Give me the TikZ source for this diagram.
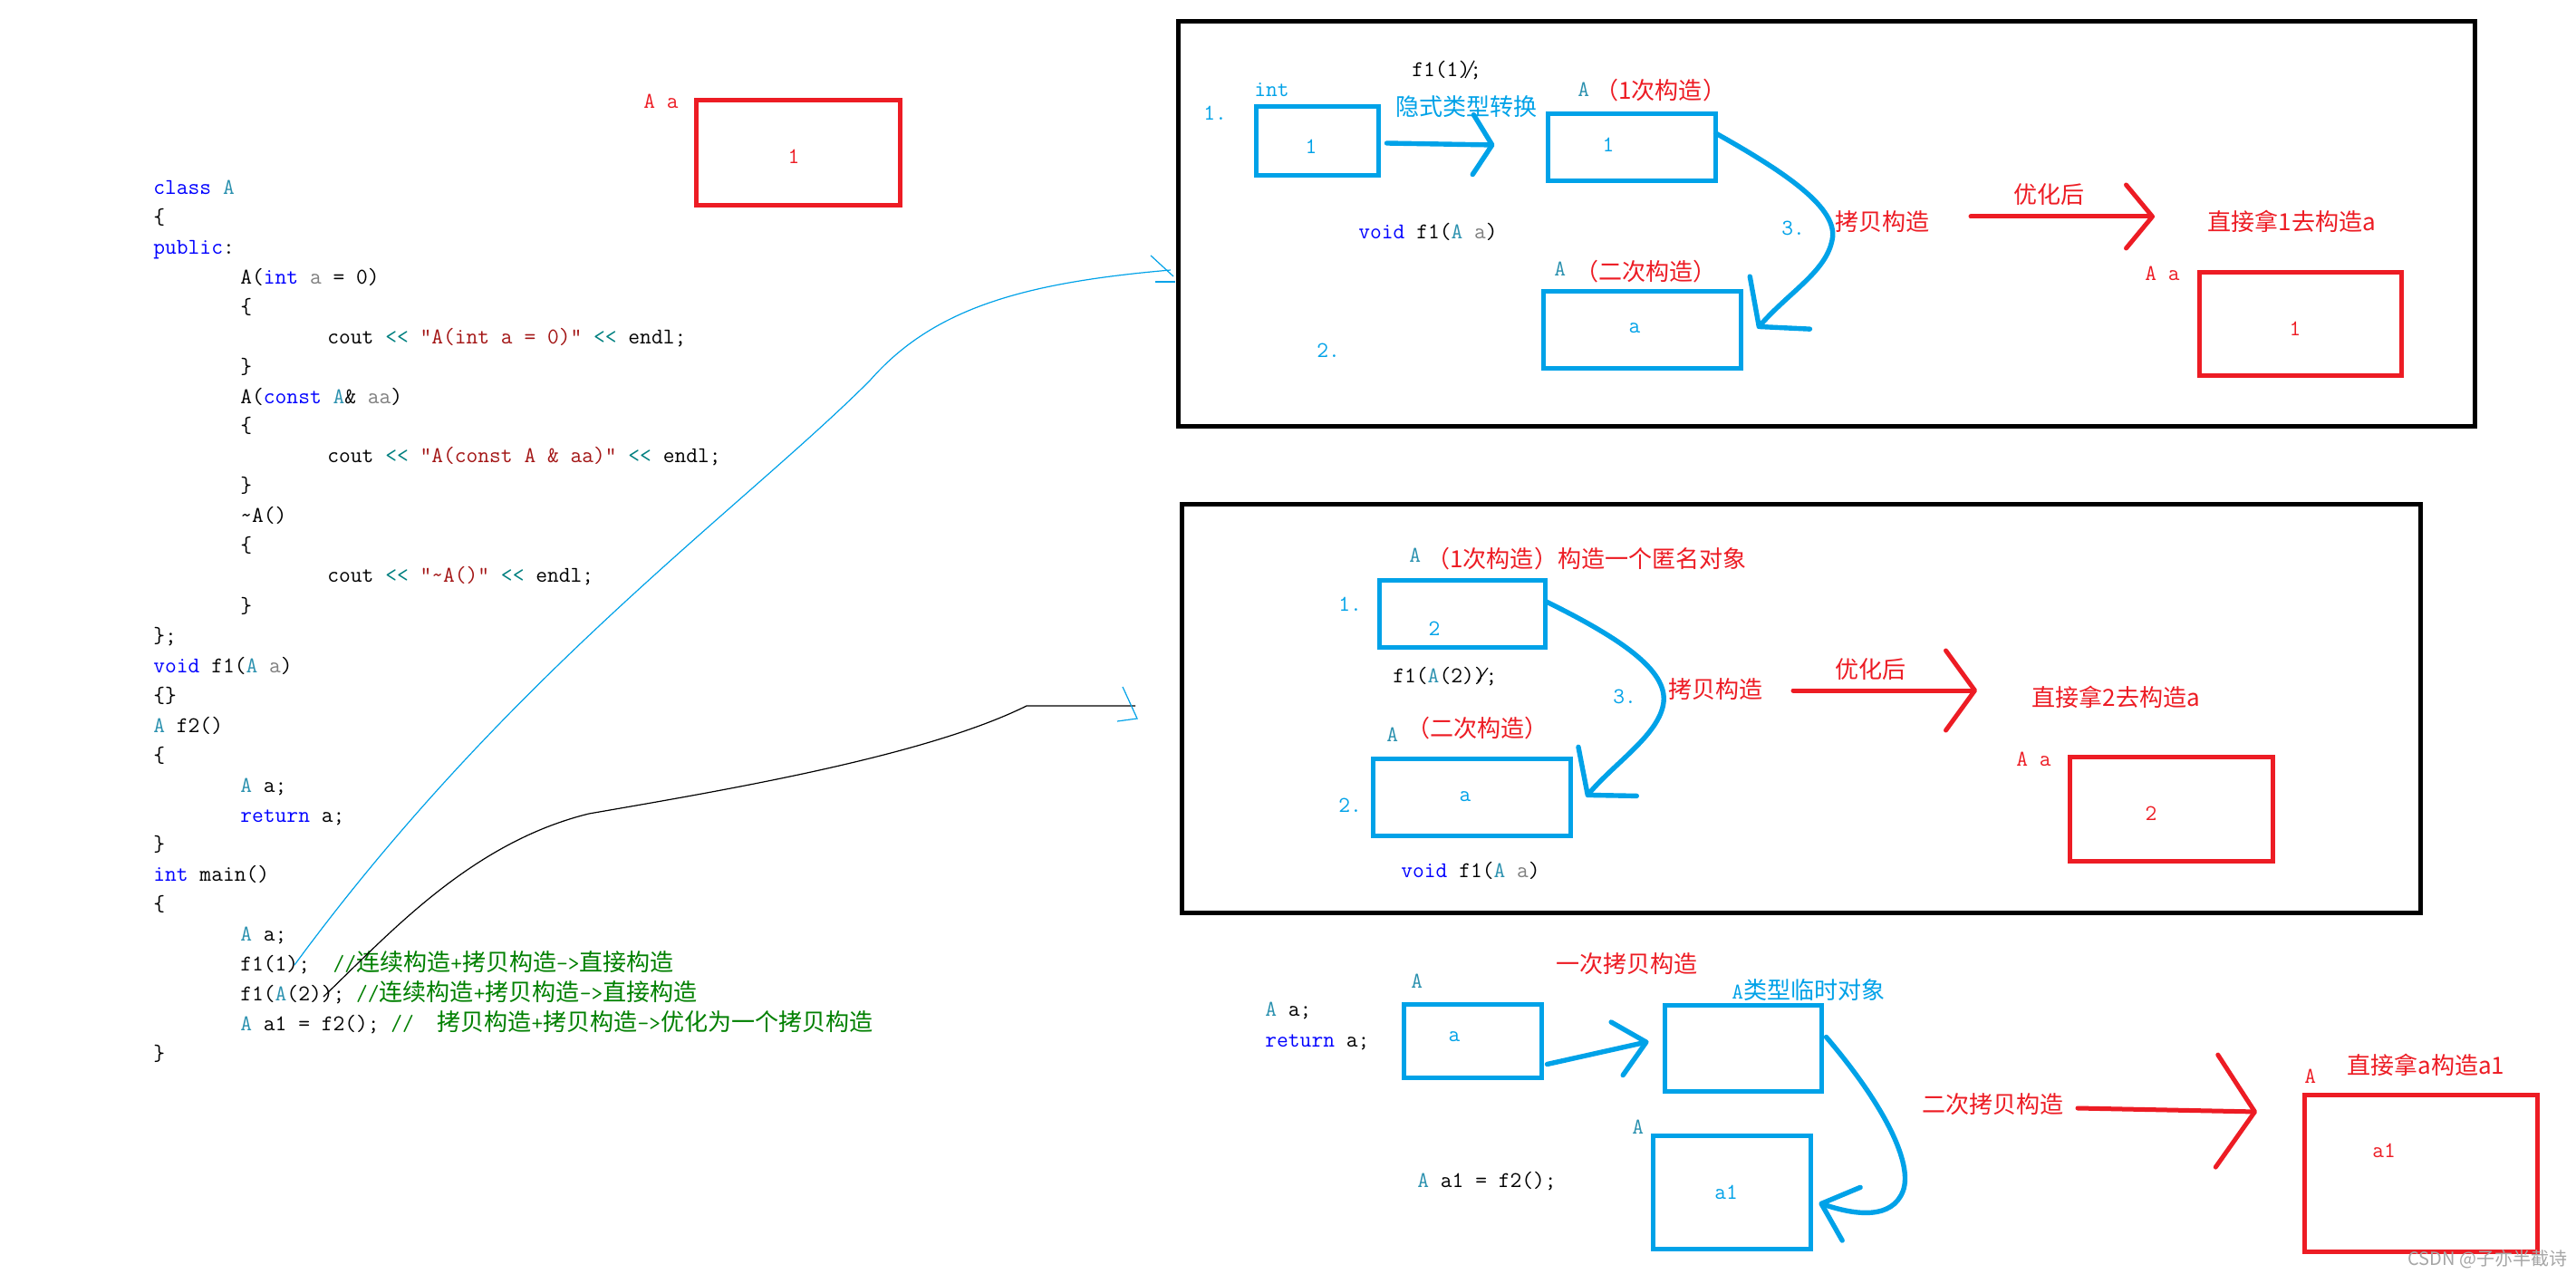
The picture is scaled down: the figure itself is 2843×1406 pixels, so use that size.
\documentclass[tikz,border=0pt]{standalone}
\usepackage{fontspec}
\newfontfamily\cjk[Scale=1.05]{Noto Sans CJK SC}
\newfontfamily\wmfont{Noto Sans CJK SC}
\usetikzlibrary{fit,calc,arrows.meta}
\definecolor{pblue}{RGB}{0,162,232}
\definecolor{pred}{RGB}{237,28,36}
\definecolor{kwblue}{RGB}{0,0,255}
\definecolor{tyteal}{RGB}{43,145,175}
\definecolor{pgray}{RGB}{128,128,128}
\definecolor{strred}{RGB}{163,21,21}
\definecolor{opteal}{RGB}{0,128,128}
\definecolor{cmgreen}{RGB}{0,128,0}
\newcommand\xzh[1]{{\cjk #1}}
\newcommand\xkw[1]{\textcolor{kwblue}{#1}}
\newcommand\xty[1]{\textcolor{tyteal}{#1}}
\newcommand\xpa[1]{\textcolor{pgray}{#1}}
\newcommand\xst[1]{\textcolor{strred}{#1}}
\newcommand\xop[1]{\textcolor{opteal}{#1}}
\newcommand\xcm[1]{\textcolor{cmgreen}{#1}}
\begin{document}
\begin{tikzpicture}[x=0.5pt,y=-0.5pt,
  code/.style={anchor=base west, inner sep=0pt, font=\ttfamily\fontsize{12.4}{14}\selectfont},
  lab/.style={code},
  labc/.style={code, anchor=base},
  frame/.style={draw=black, line width=2.5pt, inner sep=0pt},
  bbox/.style={draw=pblue, line width=2.5pt, inner sep=0pt},
  rbox/.style={draw=pred, line width=2.5pt, inner sep=0pt},
  bthick/.style={draw=pblue, line width=2.7pt, line cap=round, line join=round},
  rthick/.style={draw=pred, line width=2.5pt, line cap=round, line join=round},
  thinb/.style={draw=pblue, line width=0.6pt},
  think/.style={draw=black, line width=0.6pt}]
\fill[white] (0,0) rectangle (2843,1406);
\useasboundingbox (0,0) rectangle (2843,1406);

% ---------------- code listing ----------------
\node[code] (c0) at (169,215) {\xkw{class} \xty{A}};
\node[code] (c1) at (169,248) {\{};
\node[code] (c2) at (169,281) {\xkw{public}:};
\node[code] (c3) at (265,314) {A(\xkw{int} \xpa{a} = 0)};
\node[code] (c4) at (265,347) {\{};
\node[code] (c5) at (361,380) {cout \xop{<<} \xst{"A(int a = 0)"} \xop{<<} endl;};
\node[code] (c6) at (265,413) {\}};
\node[code] (c7) at (265,446) {A(\xkw{const} \xty{A}\& \xpa{aa})};
\node[code] (c8) at (265,478) {\{};
\node[code] (c9) at (361,511) {cout \xop{<<} \xst{"A(const A \& aa)"} \xop{<<} endl;};
\node[code] (c10) at (265,544) {\}};
\node[code] (c11) at (265,577) {\textasciitilde A()};
\node[code] (c12) at (265,610) {\{};
\node[code] (c13) at (361,643) {cout \xop{<<} \xst{"\textasciitilde A()"} \xop{<<} endl;};
\node[code] (c14) at (265,676) {\}};
\node[code] (c15) at (169,709) {\};};
\node[code] (c16) at (169,742) {\xkw{void} f1(\xty{A} \xpa{a})};
\node[code] (c17) at (169,775) {\{\}};
\node[code] (c18) at (169,808) {\xty{A} f2()};
\node[code] (c19) at (169,841) {\{};
\node[code] (c20) at (265,874) {\xty{A} a;};
\node[code] (c21) at (265,907) {\xkw{return} a;};
\node[code] (c22) at (169,939) {\}};
\node[code] (c23) at (169,972) {\xkw{int} main()};
\node[code] (c24) at (169,1005) {\{};
\node[code] (c25) at (265,1038) {\xty{A} a;};
\node[code] (c26) at (265,1071) {f1(1);\ \ \xcm{//\xzh{连续构造}+\xzh{拷贝构造}->\xzh{直接构造}}};
\node[code] (c27) at (265,1104) {f1(\xty{A}(2)); \xcm{//\xzh{连续构造}+\xzh{拷贝构造}->\xzh{直接构造}}};
\node[code] (c28) at (265,1137) {\xty{A} a1 = f2(); \xcm{//\ \ \xzh{拷贝构造}+\xzh{拷贝构造}->\xzh{优化为一个拷贝构造}}};
\node[code] (c29) at (169,1170) {\}};

% ---------------- top-left object ----------------
\node[lab, text=pred] (la0) at (710,120) {A a};
\node[rbox, fit={(768,111) (993,227)}] (R0) {};
\node[labc, text=pred] at (876,181) {1};

% ---------------- panels ----------------
\node[frame, fit={(1300,24) (2731,471)}] (F1) {};
\node[frame, fit={(1304,557) (2671,1007)}] (F2) {};

% ---------------- thin connectors from code ----------------
\coordinate (t1s) at (325,1065);
\coordinate (t1e) at (1292,298);
\draw[thinb] (t1s) .. controls (560,745) and (820,560) .. (960,420) .. controls (1030,340) and (1130,312) .. (t1e);
\draw[thinb] (1270,282) -- (1295,305);
\draw[thinb] (1275,311) -- (1297,311);
\coordinate (t2s) at (357,1100);
\coordinate (t2k) at (1133,779);
\coordinate (t2e) at (1253,779);
\draw[think] (t2s) .. controls (430,1030) and (520,930) .. (650,898) .. controls (800,872) and (1020,835) .. (t2k) -- (t2e);
\draw[thinb] (1239,758) -- (1255,793) -- (1233,796);

% ---------------- top panel ----------------
\node[lab, text=pblue] at (1328,133) {1.};
\node[lab, text=pblue] (lint) at (1384,107) {int};
\node[bbox, fit={(1386,118) (1521,194)}] (bint) {};
\node[labc, text=pblue] at (1447,170) {1};
\node[lab] (f11) at (1558,85) {f1(1);};
\draw[think] (1617,86) -- (1627,67);
\node[lab, text=pblue] at (1540,128) {\xzh{隐式类型转换}};
\node[lab, text=tyteal] at (1741,107) {A};
\node[lab, text=pred] at (1760,110) {\xzh{（1次构造）}};
\node[bbox, fit={(1708,126) (1893,200)}] (bA1) {};
\node[labc, text=pblue] at (1775,168) {1};
\draw[bthick, -{Straight Barb[length=10.5pt,width=33pt,round]}] ($(bint.east)+(7,2)$) -- ($(bA1.west)+(-56,-3)$);
\node[lab, text=pblue] at (1966,260) {3.};
\node[lab, text=pred] (cpy1) at (2025,255) {\xzh{拷贝构造}};
\node[lab] at (1499,264) {\xkw{void} f1(\xty{A} \xpa{a})};
\node[lab, text=tyteal] at (1715,305) {A};
\node[lab, text=pred] at (1738,310) {\xzh{（二次构造）}};
\node[bbox, fit={(1703,322) (1921,407)}] (bA2) {};
\node[labc, text=pblue] at (1804,368) {a};
\node[lab, text=pblue] at (1453,395) {2.};
\draw[bthick, -{Straight Barb[length=17.5pt,width=44pt,round]}] ($(bA1.east)+(-2,-16)$) .. controls (1970,190) and (2030,230) .. (2022,265) .. controls (2015,300) and (1975,322) .. ($(bA2.east)+(16,-2)$);
\node[lab, text=pred] at (2222,225) {\xzh{优化后}};
\coordinate (r1s) at (2175,239);
\coordinate (r1e) at (2378,239);
\draw[rthick, -{Straight Barb[length=14.5pt,width=35pt,round]}] (r1s) -- (r1e);
\node[lab, text=pred] at (2436,255) {\xzh{直接拿1去构造a}};
\node[lab, text=pred] at (2367,310) {A a};
\node[rbox, fit={(2427,301) (2650,415)}] (R1) {};
\node[labc, text=pred] at (2533,371) {1};

% ---------------- middle panel ----------------
\node[lab, text=tyteal] at (1555,621) {A};
\node[lab, text=pred] at (1574,626) {\xzh{（1次构造）构造一个匿名对象}};
\node[lab, text=pblue] at (1477,675) {1.};
\node[bbox, fit={(1522,641) (1705,714)}] (bB1) {};
\node[labc, text=pblue] at (1583,701) {2};
\node[lab] at (1537,753) {f1(\xty{A}(2));};
\draw[think] (1631,752) -- (1642,737);
\node[lab, text=pblue] at (1780,776) {3.};
\node[lab, text=pred] at (1841,770) {\xzh{拷贝构造}};
\node[lab, text=tyteal] at (1530,818) {A};
\node[lab, text=pred] at (1552,813) {\xzh{（二次构造）}};
\node[bbox, fit={(1515,837) (1733,922)}] (bB2) {};
\node[labc, text=pblue] at (1617,884) {a};
\node[lab, text=pblue] at (1477,896) {2.};
\node[lab] at (1546,968) {\xkw{void} f1(\xty{A} \xpa{a})};
\draw[bthick, -{Straight Barb[length=17pt,width=42pt,round]}] ($(bB1.east)+(-2,-14)$) .. controls (1790,705) and (1840,740) .. (1836,775) .. controls (1832,810) and (1782,842) .. ($(bB2.east)+(15,0)$);
\node[lab, text=pred] at (2025,748) {\xzh{优化后}};
\coordinate (r2s) at (1979,762);
\coordinate (r2e) at (2182,762);
\draw[rthick, -{Straight Barb[length=16pt,width=44pt,round]}] (r2s) -- (r2e);
\node[lab, text=pred] at (2242,779) {\xzh{直接拿2去构造a}};
\node[lab, text=pred] at (2225,845) {A a};
\node[rbox, fit={(2284,835) (2508,950)}] (R2) {};
\node[labc, text=pred] at (2374,905) {2};

% ---------------- bottom ----------------
\node[lab] at (1396,1121) {\xty{A} a;};
\node[lab] at (1396,1155) {\xkw{return} a;};
\node[lab, text=tyteal] at (1557,1090) {A};
\node[bbox, fit={(1549,1108) (1701,1189)}] (bC1) {};
\node[labc, text=pblue] at (1605,1149) {a};
\node[lab, text=pred] at (1717,1073) {\xzh{一次拷贝构造}};
\node[lab, text=pblue] at (1911,1102) {A\xzh{类型临时对象}};
\node[bbox, fit={(1837,1109) (2010,1204)}] (bC2) {};
\draw[bthick, -{Straight Barb[length=16.5pt,width=30pt,round]}] ($(bC1.east)+(4,26)$) -- ($(bC2.west)+(-15,-7)$);
\node[lab, text=tyteal] at (1801,1251) {A};
\node[bbox, fit={(1824,1253) (1998,1378)}] (bC3) {};
\node[labc, text=pblue] at (1905,1323) {a1};
\node[lab] at (1564,1310) {\xty{A} a1 = f2();};
\draw[bthick, -{Straight Barb[length=17.5pt,width=31pt,round]}] ($(bC2.east)+(3,-12)$) .. controls (2080,1220) and (2112,1285) .. (2100,1315) .. controls (2088,1345) and (2050,1342) .. ($(bC3.east)+(7,12)$);
\node[lab, text=pred] at (2121,1228) {\xzh{二次拷贝构造}};
\coordinate (r3s) at (2293,1223);
\coordinate (r3e) at (2491,1227);
\draw[rthick, -{Straight Barb[length=21pt,width=62pt,round]}] (r3s) -- (r3e);
\node[lab, text=pred] at (2543,1195) {A};
\node[lab, text=pred] at (2590,1185) {\xzh{直接拿a构造a1}};
\node[rbox, fit={(2543,1208) (2800,1381)}] (R3) {};
\node[labc, text=pred] at (2631,1277) {a1};

\node[anchor=base west, inner sep=0pt, text=black!35, font=\wmfont\fontsize{10}{12}\selectfont] at (2657,1396) {CSDN @子亦半截诗};
\end{tikzpicture}
\end{document}
